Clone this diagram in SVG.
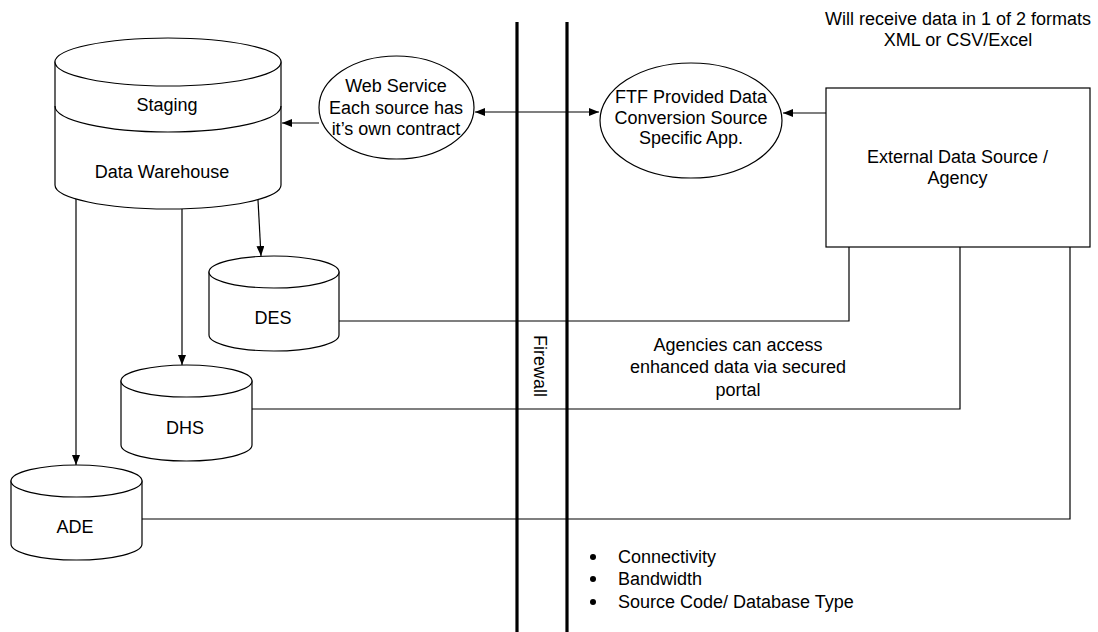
<svg xmlns="http://www.w3.org/2000/svg" width="1098" height="632" viewBox="0 0 1098 632">
<defs>
<marker id="arr" viewBox="0 0 10 8" refX="10" refY="4" markerWidth="10" markerHeight="8" markerUnits="userSpaceOnUse" orient="auto-start-reverse">
<path d="M0,0 L10,4 L0,8 Z" fill="#000"/>
</marker>
<style>
.s{fill:#fff;stroke:#000;stroke-width:1.2}
.n{fill:none;stroke:#000;stroke-width:1.2}
.c{fill:none;stroke:#000;stroke-width:1.2}
.fw{stroke:#000;stroke-width:3.2}
text{font-family:"Liberation Sans",Arial,sans-serif;font-size:18px;fill:#000}
.m{text-anchor:middle}
</style>
</defs>
<rect width="1098" height="632" fill="#fff"/>

<g id="firewall">
<line class="fw" x1="517" y1="22" x2="517" y2="632"/>
<line class="fw" x1="567" y1="22" x2="567" y2="632"/>
<text transform="translate(540,366) rotate(90)" class="m" dominant-baseline="central">Firewall</text>
</g>

<g id="connectors">
<line class="c" x1="319" y1="123" x2="282" y2="123" marker-end="url(#arr)"/>
<line class="c" x1="475" y1="112" x2="599" y2="112" marker-start="url(#arr)" marker-end="url(#arr)"/>
<line class="c" x1="826" y1="113" x2="783" y2="113" marker-end="url(#arr)"/>
<line class="c" x1="258" y1="200" x2="261" y2="256" marker-end="url(#arr)"/>
<line class="c" x1="182" y1="209" x2="182" y2="365" marker-end="url(#arr)"/>
<line class="c" x1="76" y1="197" x2="76" y2="465" marker-end="url(#arr)"/>
<path class="c" d="M339,321 H849 V247"/>
<path class="c" d="M252,409 H960 V247"/>
<path class="c" d="M142,519 H1070 V247"/>
</g>

<g id="dw">
<path class="s" d="M55,62 L55,185 A113,24 0 0 0 281,185 L281,62 Z"/>
<ellipse class="s" cx="168" cy="62" rx="113" ry="24"/>
<path class="n" d="M55,106 A113,26 0 0 0 281,106"/>
<text x="167" y="111" class="m">Staging</text>
<text x="162" y="178" class="m">Data Warehouse</text>
</g>

<g id="webservice">
<ellipse class="s" cx="396.5" cy="107.5" rx="77.5" ry="51.5"/>
<text x="396" y="92" class="m">Web Service</text>
<text x="396" y="114" class="m">Each source has</text>
<text x="396" y="135" class="m">it’s own contract</text>
</g>

<g id="ftf">
<ellipse class="s" cx="691" cy="120.5" rx="91" ry="57.5"/>
<text x="691" y="103" class="m">FTF Provided Data</text>
<text x="691" y="124" class="m">Conversion Source</text>
<text x="691" y="144" class="m">Specific App.</text>
</g>

<g id="external">
<rect class="s" x="826" y="88" width="264" height="159"/>
<text x="957.5" y="163" class="m">External Data Source /</text>
<text x="957.5" y="184" class="m">Agency</text>
</g>

<g id="formats">
<text x="958" y="25" class="m">Will receive data in 1 of 2 formats</text>
<text x="958" y="46" class="m">XML or CSV/Excel</text>
</g>

<g id="des">
<path class="s" d="M209,272 L209,335 A65,16 0 0 0 339,335 L339,272 Z"/>
<ellipse class="s" cx="274" cy="272" rx="65" ry="16"/>
<text x="273" y="324" class="m">DES</text>
</g>

<g id="dhs">
<path class="s" d="M121,381 L121,445 A65.5,16 0 0 0 252,445 L252,381 Z"/>
<ellipse class="s" cx="186.5" cy="381" rx="65.5" ry="16"/>
<text x="185" y="434" class="m">DHS</text>
</g>

<g id="ade">
<path class="s" d="M11,481 L11,544 A65.5,16 0 0 0 142,544 L142,481 Z"/>
<ellipse class="s" cx="76.5" cy="481" rx="65.5" ry="16"/>
<text x="75" y="533" class="m">ADE</text>
</g>

<g id="portal">
<text x="738" y="351" class="m">Agencies can access</text>
<text x="738" y="373" class="m">enhanced data via secured</text>
<text x="738" y="396" class="m">portal</text>
</g>

<g id="bullets">
<circle cx="593" cy="557" r="3"/>
<circle cx="593" cy="579" r="3"/>
<circle cx="593" cy="602" r="3"/>
<text x="618" y="563">Connectivity</text>
<text x="618" y="585">Bandwidth</text>
<text x="618" y="608">Source Code/ Database Type</text>
</g>
</svg>
